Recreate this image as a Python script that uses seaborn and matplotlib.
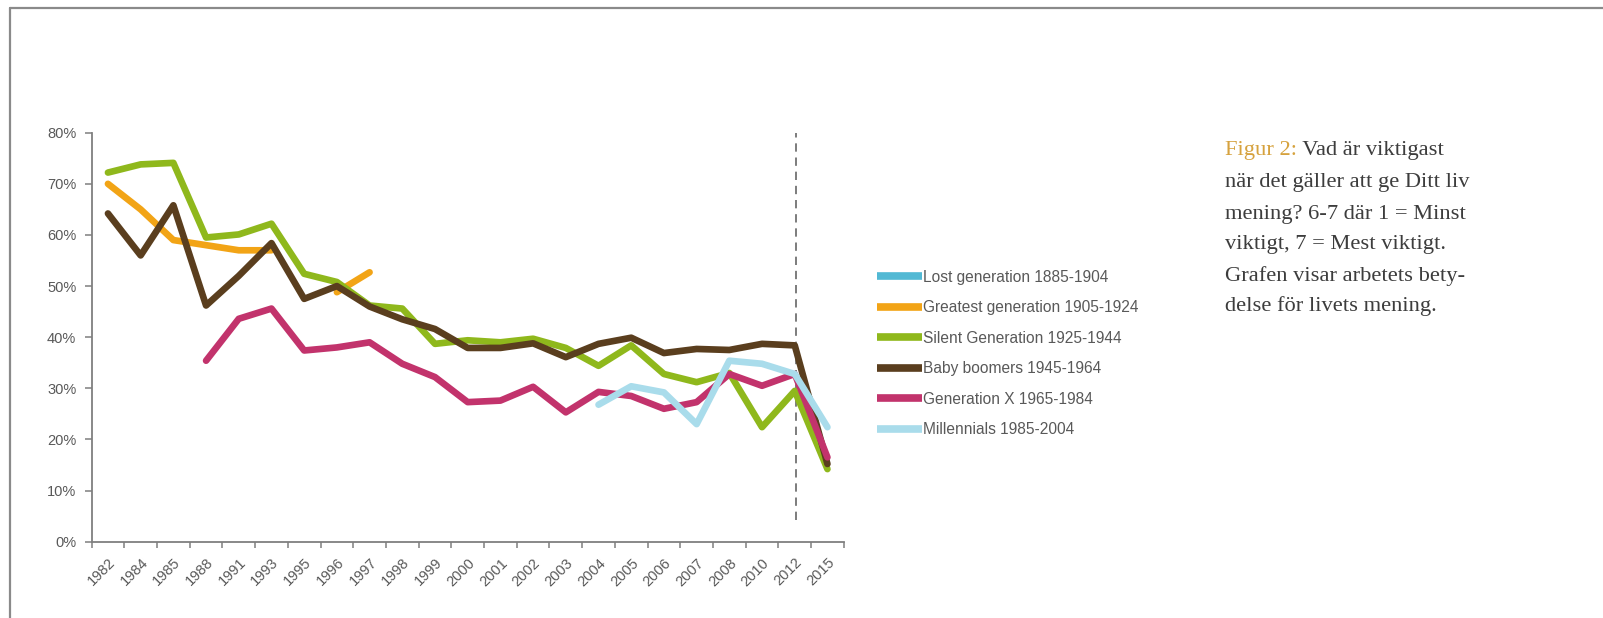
import numpy as np
import pandas as pd
import matplotlib
matplotlib.use("Agg")
import matplotlib.pyplot as plt
from matplotlib.lines import Line2D
import seaborn as sns

# ---------------- data ----------------
years = ["1982", "1984", "1985", "1988", "1991", "1993", "1995", "1996", "1997",
         "1998", "1999", "2000", "2001", "2002", "2003", "2004", "2005", "2006",
         "2007", "2008", "2010", "2012", "2015"]

series_names = ["Lost generation 1885-1904", "Greatest generation 1905-1924",
                "Silent Generation 1925-1944", "Baby boomers 1945-1964",
                "Generation X 1965-1984", "Millennials 1985-2004"]

nan = np.nan
lost = [nan] * 23
greatest = [70.0, 65.0, 59.0, 58.0, 57.0, 57.0, nan, 48.8, 52.7] + [nan] * 14
silent = [72.2, 73.8, 74.1, 59.5, 60.1, 62.2, 52.4, 50.8, 46.2, 45.6, 38.7, 39.4,
          39.0, 39.7, 37.9, 34.4, 38.4, 32.8, 31.2, 33.0, 22.4, 29.5, 14.2]
boomers = [64.2, 56.0, 65.8, 46.2, 52.0, 58.4, 47.5, 50.0, 46.0, 43.5, 41.6, 37.9,
           37.9, 38.8, 36.1, 38.7, 39.9, 36.9, 37.7, 37.5, 38.7, 38.4, 15.2]
genx = [nan, nan, nan, 35.4, 43.6, 45.6, 37.4, 38.0, 39.0, 34.8, 32.2, 27.3,
        27.6, 30.3, 25.3, 29.3, 28.5, 26.0, 27.3, 32.8, 30.5, 32.8, 16.5]
millennials = [nan] * 15 + [26.8, 30.4, 29.2, 23.0, 35.4, 34.8, 32.8, 22.4]

values = [lost, greatest, silent, boomers, genx, millennials]
colors = ["#52B9D4", "#F2A416", "#8FB81C", "#5A3E1E", "#C2336C", "#A9DCEB"]
yticks = [0, 10, 20, 30, 40, 50, 60, 70, 80]

caption_lead = "Figur 2:"
caption_lines = [" Vad är viktigast",
                 "när det gäller att ge Ditt liv",
                 "mening? 6-7 där 1 = Minst",
                 "viktigt, 7 = Mest viktigt.",
                 "Grafen visar arbetets bety-",
                 "delse för livets mening."]

# ---------------- long-form table (segments split at gaps) ----------------
rows = []
for name, vals in zip(series_names, values):
    seg = 0
    prev_ok = False
    for i, v in enumerate(vals):
        if np.isnan(v):
            if prev_ok:
                seg += 1
            prev_ok = False
            continue
        rows.append({"pos": i, "year": years[i], "value": v, "series": name,
                     "segment": f"{name}-{seg}"})
        prev_ok = True
df = pd.DataFrame(rows)

palette = dict(zip(series_names, colors))
hue_order = [s for s in series_names if s in set(df["series"])]

# ---------------- figure ----------------
sns.set_theme(style="white")
plt.rcParams["font.family"] = ["Liberation Sans", "DejaVu Sans"]

W, H = 1603, 618
fig = plt.figure(figsize=(W / 100, H / 100), dpi=100)
fig.patch.set_facecolor("white")

ax_left, ax_right = 91.6, 843.8
ax_top, ax_bottom = 132.7, 541.7
ax = fig.add_axes([ax_left / W, 1 - ax_bottom / H,
                   (ax_right - ax_left) / W, (ax_bottom - ax_top) / H])
ax.set_facecolor("white")

sns.lineplot(data=df, x="pos", y="value", hue="series", units="segment",
             estimator=None, sort=False, hue_order=hue_order, palette=palette,
             linewidth=4.8, legend=False, ax=ax,
             solid_capstyle="round", solid_joinstyle="round")

ax.set_xlim(-0.5, len(years) - 0.5)
ax.set_ylim(0, 80)

# dashed marker line at 2012
ax.axvline(x=years.index("2012") + 0.05, ymin=0.053, ymax=1.0, color="#666666",
           linewidth=1.2, linestyle=(0, (5, 3.5)), zorder=1)

# axes styling
for s in ["top", "right"]:
    ax.spines[s].set_visible(False)
for s in ["left", "bottom"]:
    ax.spines[s].set_color("#7f7f7f")
    ax.spines[s].set_linewidth(1.3)

ax.set_xticks(range(len(years)))
ax.set_xticklabels(years, rotation=45, ha="right", rotation_mode="anchor",
                   fontsize=10.5, color="#595959")
ax.set_xticks(np.arange(-0.5, len(years), 1.0), minor=True)
ax.tick_params(axis="x", which="major", length=0, pad=10)
ax.tick_params(axis="x", which="minor", length=4.5, width=1.1, color="#7f7f7f",
               direction="out", bottom=True)

ax.set_yticks(yticks)
ax.set_yticklabels([f"{t}%" for t in yticks], fontsize=10.5, color="#595959")
ax.tick_params(axis="y", which="major", length=5, width=1.1, color="#7f7f7f",
               direction="out", left=True, pad=6)
ax.set_xlabel("")
ax.set_ylabel("")
ax.grid(False)

# legend (includes series without data)
handles = [Line2D([0], [0], color=c, linewidth=5.5, solid_capstyle="butt")
           for c in colors]
leg = fig.legend(handles, series_names, loc="center left",
                 bbox_to_anchor=(877 / W, 1 - 353.5 / H), frameon=False,
                 fontsize=11.2, labelcolor="#595959", handlelength=2.9,
                 handletextpad=0.05, labelspacing=1.0, borderpad=0,
                 borderaxespad=0)

# caption text block
serif = ["Liberation Serif", "DejaVu Serif"]
cap_x = 1225 / W
line_y = [151, 183, 214, 245, 276, 306]
cap_size = 16.2
fig.canvas.draw()
renderer = fig.canvas.get_renderer()
lead = fig.text(cap_x, 1 - line_y[0] / H, caption_lead, fontsize=cap_size,
                family=serif, color="#D6A23E", va="center", ha="left")
bb = lead.get_window_extent(renderer=renderer)
fig.text(bb.x1 / W, 1 - line_y[0] / H, caption_lines[0], fontsize=cap_size,
         family=serif, color="#3d3d3d", va="center", ha="left")
for txt, yy in zip(caption_lines[1:], line_y[1:]):
    fig.text(cap_x, 1 - yy / H, txt, fontsize=cap_size, family=serif,
             color="#3d3d3d", va="center", ha="left")

# outer frame (left and top edges)
fig.add_artist(Line2D([10 / W, 10 / W], [0, 1 - 8 / H], transform=fig.transFigure,
                      color="#8a8a8a", linewidth=1.6))
fig.add_artist(Line2D([10 / W, 1], [1 - 8 / H, 1 - 8 / H], transform=fig.transFigure,
                      color="#8a8a8a", linewidth=1.6))

fig.savefig("out.png", dpi=100, facecolor="white")
